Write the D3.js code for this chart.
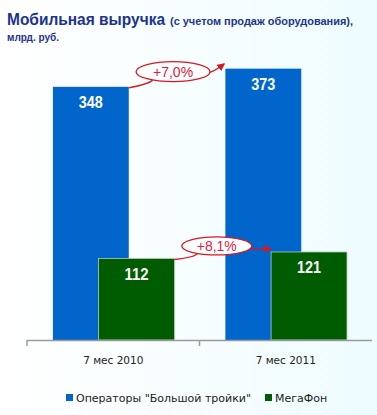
<!DOCTYPE html>
<html>
<head>
<meta charset="utf-8">
<script src="https://cdn.jsdelivr.net/npm/d3@7"></script>
<style>
  body { margin: 0; }
  svg { display: block; }
</style>
</head>
<body>
<div id="graphic"></div>
<script>
// chart data
const categories = ["7 мес 2010", "7 мес 2011"];
const seriesNames = ["Операторы \"Большой тройки\"", "МегаФон"];
const bigThree = [348, 373];
const megafon = [112, 121];
const growthLabels = ["+7,0%", "+8,1%"];
const colors = ["#0066cc", "#005c00"];

const width = 377, height = 415;
const sans = "'Liberation Sans', Arial, sans-serif";
const dejavu = "'DejaVu Sans', Tahoma, sans-serif";

const svg = d3.select("#graphic")
              .append("svg")
              .attr("width", width)
              .attr("height", height);

// background: white fading to pale azure
const grad = svg.append("defs").append("linearGradient")
                .attr("id", "bg").attr("x1", 0).attr("x2", 1).attr("y1", 0).attr("y2", 0);
grad.append("stop").attr("offset", "0%").attr("stop-color", "#ffffff");
grad.append("stop").attr("offset", "100%").attr("stop-color", "#eefcff");
svg.append("rect").attr("width", width).attr("height", height).attr("fill", "url(#bg)");

// title
svg.append("text")
   .attr("x", 7).attr("y", 25)
   .attr("font-family", sans).attr("font-weight", "bold")
   .attr("font-size", 17).attr("fill", "#1c3490")
   .attr("textLength", 158).attr("lengthAdjust", "spacingAndGlyphs")
   .text("Мобильная выручка");
svg.append("text")
   .attr("x", 170).attr("y", 25)
   .attr("font-family", sans).attr("font-weight", "bold")
   .attr("font-size", 10).attr("fill", "#1c3490")
   .attr("textLength", 183).attr("lengthAdjust", "spacingAndGlyphs")
   .text("(с учетом продаж оборудования),");
svg.append("text")
   .attr("x", 7).attr("y", 41)
   .attr("font-family", sans).attr("font-weight", "bold")
   .attr("font-size", 10).attr("fill", "#1c3490")
   .text("млрд. руб.");

// scales
const x = d3.scaleBand()
            .domain(categories)
            .range([27, 372]);
const bw = x.bandwidth();
const barW = bw * 0.44;
const offsets = [bw * 0.15, bw * 0.415];

const y = d3.scaleLinear()
            .domain([0, 400])
            .range([340, 49]);

const data = categories.map((c, i) => ({cat: c, vals: [bigThree[i], megafon[i]]}));

// bars, blue behind green
[0, 1].forEach(s => {
    const g = svg.append("g");
    g.selectAll("rect")
     .data(data)
     .join("rect")
     .attr("x", d => x(d.cat) + offsets[s])
     .attr("y", d => y(d.vals[s]))
     .attr("width", barW)
     .attr("height", d => y(0) - y(d.vals[s]))
     .attr("fill", colors[s])
     .attr("stroke", s === 1 ? "#b8c8b8" : "none")
     .attr("stroke-width", 0.8);
    g.selectAll("text")
     .data(data)
     .join("text")
     .attr("x", d => x(d.cat) + offsets[s] + barW / 2 - 12)
     .attr("y", d => y(d.vals[s]) + 21)
     .attr("font-family", sans)
     .attr("font-weight", "bold")
     .attr("font-size", 17)
     .attr("fill", "#ffffff")
     .attr("textLength", 24).attr("lengthAdjust", "spacingAndGlyphs")
     .text(d => d.vals[s]);
});

// axis
const axis = svg.append("g");
axis.append("line")
    .attr("x1", x.range()[0]).attr("x2", x.range()[1])
    .attr("y1", y(0) + 0.5).attr("y2", y(0) + 0.5)
    .attr("stroke", "#9a9a9a").attr("stroke-width", 1.5);
axis.selectAll(".tick")
    .data(categories)
    .join("line")
    .attr("x1", d => x(d)).attr("x2", d => x(d))
    .attr("y1", y(0)).attr("y2", y(0) + 6)
    .attr("stroke", "#9a9a9a").attr("stroke-width", 1.5);
axis.selectAll("text")
    .data(categories)
    .join("text")
    .attr("x", d => x(d) + bw / 2)
    .attr("y", 364)
    .attr("text-anchor", "middle")
    .attr("font-family", dejavu)
    .attr("font-size", 10.5)
    .attr("fill", "#222")
    .text(d => d);

// growth annotations
svg.append("defs").append("marker")
   .attr("id", "arrow")
   .attr("viewBox", "0 0 10 10")
   .attr("refX", 9).attr("refY", 5)
   .attr("markerWidth", 6).attr("markerHeight", 6)
   .attr("orient", "auto")
   .append("path")
   .attr("d", "M0,0 L10,5 L0,10 Z")
   .attr("fill", "#d81820");

[0, 1].forEach(s => {
    const vals = s === 0 ? bigThree : megafon;
    const x0 = x(categories[0]) + offsets[s] + barW;   // right edge of first bar
    const x1 = x(categories[1]) + offsets[s];          // left edge of second bar
    const y0 = y(vals[0]), y1 = y(vals[1]);
    const cx = s === 0 ? (x0 + x1) / 2 - 4 : (x0 + x1) / 2 - 6;
    const cy = s === 0 ? y1 + 3 : y1 - 6;
    const rx = s === 0 ? 37 : 35, ry = s === 0 ? 10 : 9;
    const g = svg.append("g");
    // connector from first bar
    g.append("path")
     .attr("d", `M${x0},${y0 + 1} Q${cx - rx * 0.6},${cy + ry + 2} ${cx - rx * 0.55},${cy + ry * 0.8}`)
     .attr("fill", "none").attr("stroke", "#d81820").attr("stroke-width", 1.3);
    // arrow to second bar
    g.append("path")
     .attr("d", s === 0
         ? `M${cx + rx - 1},${cy + 1} Q${x1 - 10},${y1 + 2} ${x1 - 1},${y1 - 5}`
         : `M${cx + rx - 2},${cy + 3} L${x1},${cy + 3}`)
     .attr("fill", "none").attr("stroke", "#d81820").attr("stroke-width", 1.3)
     .attr("marker-end", "url(#arrow)");
    g.append("ellipse")
     .attr("cx", cx).attr("cy", cy).attr("rx", rx).attr("ry", ry)
     .attr("fill", "#ffffff").attr("stroke", "#d81820").attr("stroke-width", 1.3);
    g.append("text")
     .attr("x", cx).attr("y", cy + 5.5)
     .attr("text-anchor", "middle")
     .attr("font-family", sans)
     .attr("font-size", 14)
     .attr("fill", "#e0203a")
     .text(growthLabels[s]);
});

// legend
const legendX = [66, 265];
const legend = svg.append("g");
legend.selectAll("rect")
      .data(seriesNames)
      .join("rect")
      .attr("x", (d, i) => legendX[i]).attr("y", 394)
      .attr("width", 7).attr("height", 7)
      .attr("fill", (d, i) => colors[i]);
legend.selectAll("text")
      .data(seriesNames)
      .join("text")
      .attr("x", (d, i) => legendX[i] + 10).attr("y", 401.5)
      .attr("font-family", dejavu)
      .attr("font-size", 11)
      .attr("fill", "#222")
      .text(d => d);
</script>
</body>
</html>
